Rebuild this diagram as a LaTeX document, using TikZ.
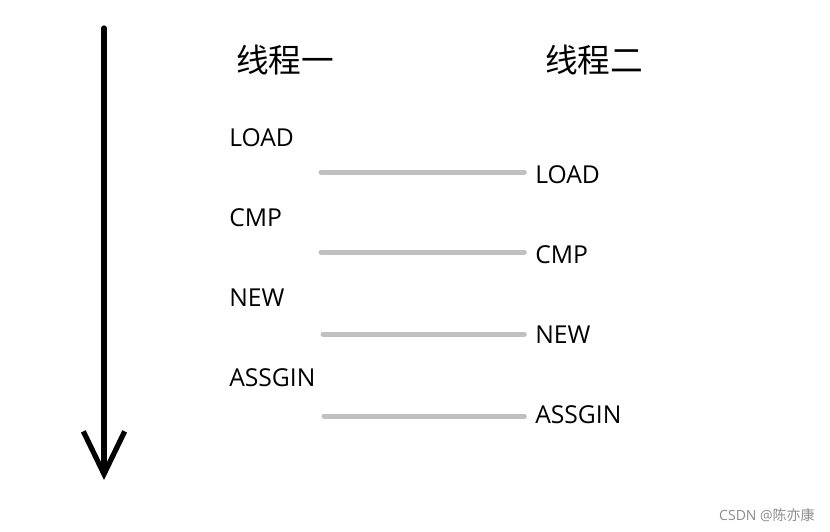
\documentclass[tikz,border=0pt]{standalone}
\usepackage{fontspec}
\setmainfont{Open Sans}
\newfontfamily\cjk{Noto Sans CJK SC}
\usetikzlibrary{arrows.meta}

\begin{document}
\begin{tikzpicture}[x=0.75pt,y=-0.75pt,
    title/.style={font=\cjk\fontsize{24.5}{27}\selectfont,inner sep=0pt},
    op/.style={font=\fontsize{18.5}{21}\selectfont,anchor=west,inner sep=0pt},
    bar/.style={line width=3.75pt,draw=barGray,line cap=round,shorten >=8pt},
    timeline/.style={line width=3.9pt,line cap=round,
        -{Straight Barb[length=32pt,width=31pt,line width=3.9pt]}}]
 \definecolor{barGray}{HTML}{C0C0C0}
 \useasboundingbox (0,0) rectangle (830,531);
 % time axis
 \coordinate (top) at (104,28);
 \coordinate (bottom) at (104,480);
 \draw[timeline] (top) -- (bottom);
 % column heads
 \node[title] (t1) at (285,60) {线程一};
 \node[title] (t2) at (594,60) {线程二};
 % thread one
 \node[op] (a1) at (229,138) {LOAD};
 \node[op] (a2) at (229,218) {CMP};
 \node[op] (a3) at (229,298) {NEW};
 \node[op] (a4) at (229,378) {ASSGIN};
 % thread two
 \node[op] (b1) at (535,175) {LOAD};
 \node[op] (b2) at (535,255) {CMP};
 \node[op] (b3) at (535,335) {NEW};
 \node[op] (b4) at (535,415) {ASSGIN};
 % switches
 \coordinate (s1) at (321,172);
 \coordinate (s2) at (321,252);
 \coordinate (s3) at (323,334);
 \coordinate (s4) at (324,416);
 \draw[bar] (s1) -- (s1 -| b1.west);
 \draw[bar] (s2) -- (s2 -| b2.west);
 \draw[bar] (s3) -- (s3 -| b3.west);
 \draw[bar] (s4) -- (s4 -| b4.west);
 % watermark
 \node[font=\fontsize{10.5}{12}\selectfont,text=black!45,anchor=east,inner sep=0pt]
   (wm) at (815,515) {CSDN @\cjk 陈亦康};
\end{tikzpicture}
\end{document}
